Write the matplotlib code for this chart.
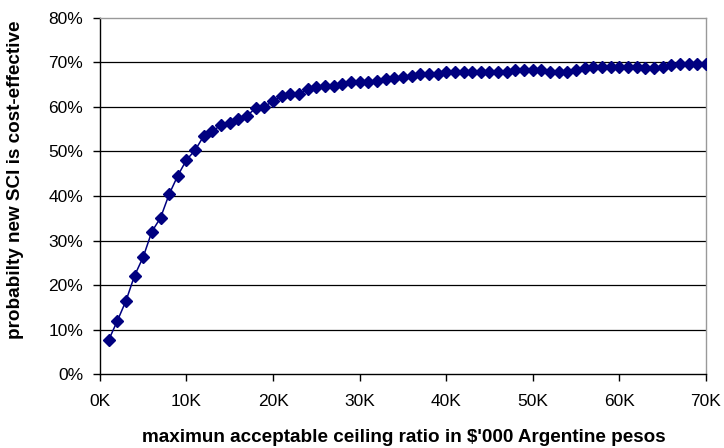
import matplotlib
matplotlib.use('Agg')
import matplotlib.pyplot as plt
from matplotlib.ticker import FuncFormatter, MultipleLocator

plt.rcParams['font.family'] = ['Liberation Sans', 'DejaVu Sans']

# ceiling ratio in pesos, 1K .. 70K
ceiling = [k * 1000 for k in range(1, 71)]

# probability new SCI is cost-effective (%)
prob = [7.6, 11.9, 16.4, 22.1, 26.3, 32.0, 35.1, 40.4, 44.6, 48.1,
        50.3, 53.5, 54.5, 56.0, 56.3, 57.4, 58.0, 59.8, 60.1, 61.3,
        62.4, 63.0, 62.8, 64.1, 64.4, 64.6, 64.8, 65.2, 65.6, 65.6,
        65.6, 65.9, 66.2, 66.4, 66.8, 67.0, 67.4, 67.4, 67.4, 67.8,
        67.9, 67.9, 67.9, 67.9, 67.9, 67.8, 67.9, 68.2, 68.3, 68.3,
        68.2, 67.9, 67.8, 67.8, 68.2, 68.7, 68.9, 68.9, 68.9, 68.9,
        68.9, 68.9, 68.7, 68.7, 69.0, 69.4, 69.6, 69.6, 69.6, 69.6]

fig = plt.figure(figsize=(7.24, 4.48), dpi=100)
ax = fig.add_axes([0.138, 0.165, 0.837, 0.795])

for v in range(10, 80, 10):
    ax.axhline(v, color='black', lw=0.9, zorder=1)

ax.plot(ceiling, prob, color='#000080', lw=1.1, marker='D', markersize=6.3,
        markeredgecolor='#000080', zorder=3)

ax.set_xlim(0, 70000)
ax.set_ylim(0, 80)
ax.xaxis.set_major_locator(MultipleLocator(10000))
ax.yaxis.set_major_locator(MultipleLocator(10))
ax.xaxis.set_major_formatter(FuncFormatter(lambda x, p: '%dK' % round(x / 1000)))
ax.yaxis.set_major_formatter(FuncFormatter(lambda y, p: '%d%%' % round(y)))

for s in ['left', 'bottom']:
    ax.spines[s].set_color('black')
    ax.spines[s].set_linewidth(1.0)
for s in ['top', 'right']:
    ax.spines[s].set_color('#999999')
    ax.spines[s].set_linewidth(1.0)

ax.tick_params(axis='both', direction='out', length=5, width=1, labelsize=12.5,
               colors='black')
ax.tick_params(axis='x', pad=9)
ax.tick_params(axis='y', pad=7)

ax.set_xlabel("maximun acceptable ceiling ratio in \\$'000 Argentine pesos",
              fontsize=13.6, fontweight='bold')
ax.set_ylabel('probabilty new SCI is cost-effective', fontsize=13.6,
              fontweight='bold')

# label positions in figure pixels
ax.xaxis.set_label_coords(403.5 / 724, 1 - 437 / 448, transform=fig.transFigure)
ax.yaxis.set_label_coords(16 / 724, 1 - 180 / 448, transform=fig.transFigure)
ax.xaxis.label.set_va('center')
ax.yaxis.label.set_va('center')

fig.savefig('out.png', dpi=100)
